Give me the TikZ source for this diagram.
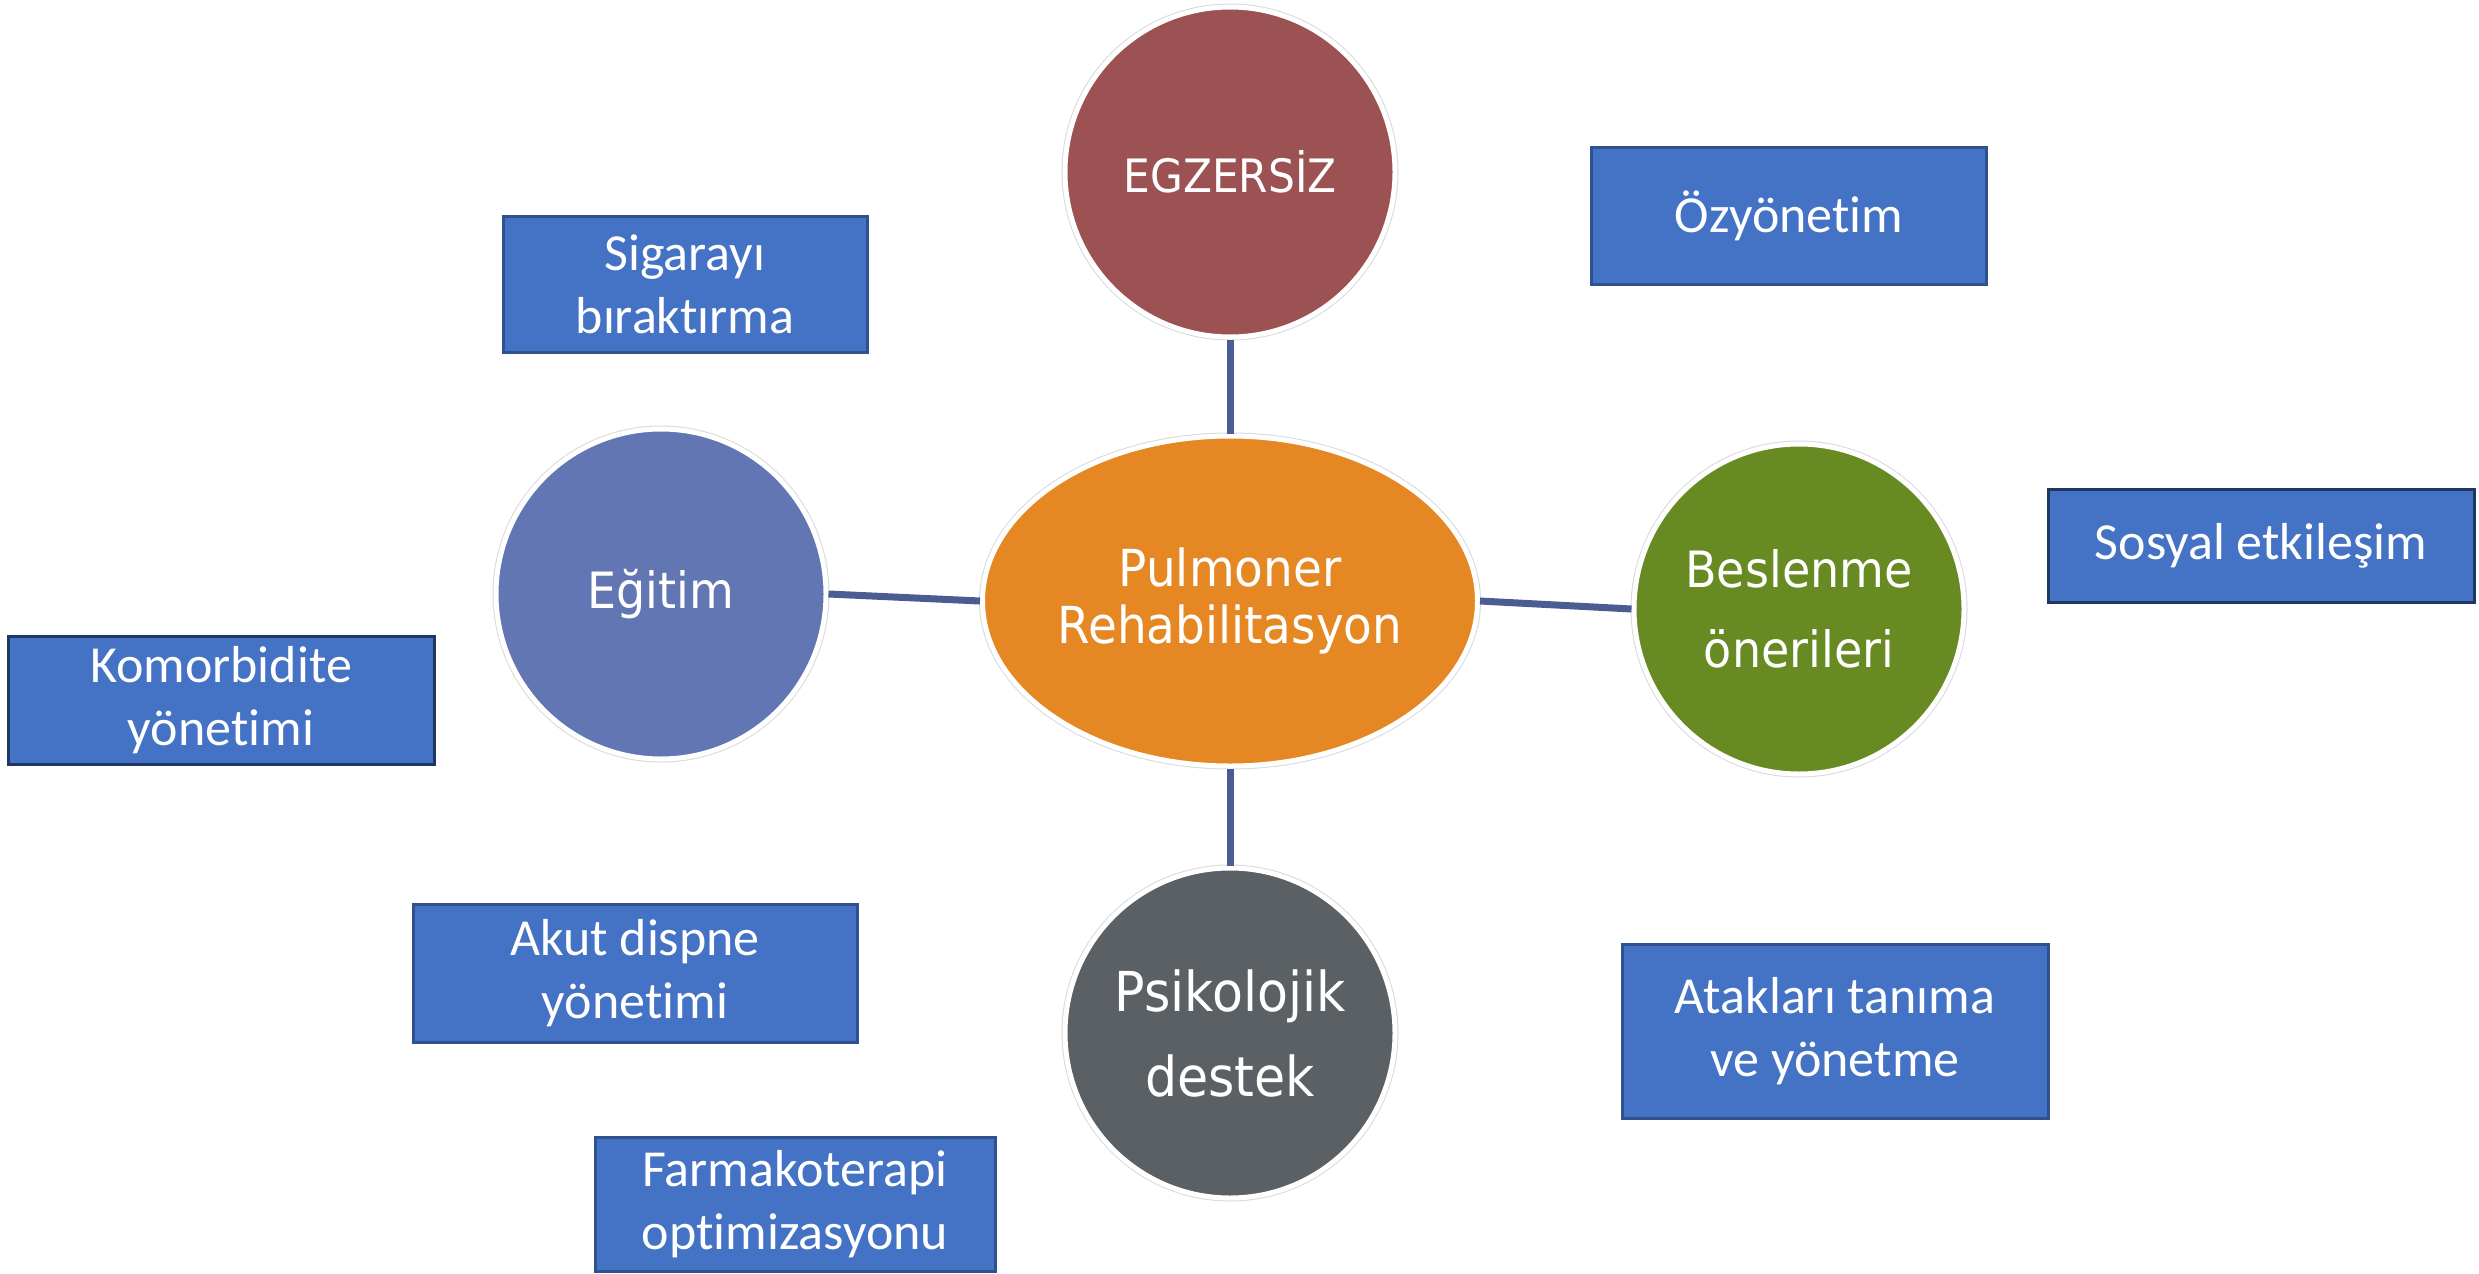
\documentclass[tikz,border=0pt]{standalone}
\usepackage{fontspec}
\setmainfont[RawFeature=-liga]{Carlito}
\newfontfamily\cf[FakeStretch=0.92]{DejaVu Sans}
\usetikzlibrary{shapes.geometric}
\definecolor{egzc}{HTML}{9C5252}
\definecolor{prc}{HTML}{E58722}
\definecolor{egic}{HTML}{6276B3}
\definecolor{besc}{HTML}{678A22}
\definecolor{psic}{HTML}{5A6064}
\definecolor{boxc}{HTML}{4472C4}
\definecolor{boxb}{HTML}{2F528F}
\definecolor{boxbd}{HTML}{1F3763}
\definecolor{linec}{HTML}{4A5C91}
\tikzset{
  ring/.style={draw=white, line width=5pt, text=white, align=center,
    preaction={draw=gray!30, line width=7pt}},
  bubble/.style={ring, circle, minimum size=330pt, inner sep=0pt},
  topic/.style={draw=boxb, fill=boxc, line width=3pt, text=white, align=center,
    inner sep=0pt, font=\fontsize{52}{63}\selectfont},
  link/.style={draw=linec, line width=7pt}
}
\begin{document}
\begin{tikzpicture}[x=1pt,y=-1pt]
\useasboundingbox (0,0) rectangle (2479,1274);
% central and satellite circles
\node[ring, ellipse, fill=prc, minimum width=495pt, minimum height=330pt, inner sep=0pt,
  font=\cf\fontsize{51}{57}\selectfont] (pr) at (1230,601) {Pulmoner\\Rehabilitasyon};
\node[bubble, fill=egzc, font=\cf\fontsize{46}{60}\selectfont] (egz) at (1230,172) {EGZERS\.{I}Z};
\node[bubble, fill=egic, font=\cf\fontsize{50}{80}\selectfont] (egi) at (661,594) {Eğitim};
\node[bubble, fill=besc, font=\cf\fontsize{50}{80}\selectfont] (bes) at (1799,609) {Beslenme\\önerileri};
\node[bubble, fill=psic, font=\cf\fontsize{55}{85}\selectfont] (psi) at (1230,1033) {Psikolojik\\destek};
% connectors
\draw[link] (egz.south) -- (pr.north);
\draw[link] (egi.east) -- (pr.west);
\draw[link] (pr.east) -- (bes.west);
\draw[link] (pr.south) -- (psi.north);
% boxes
\node[topic, minimum width=364pt, minimum height=136pt] (sig) at (685,284) {Sigarayı\\bıraktırma};
\node[topic, minimum width=395pt, minimum height=137pt] (ozy) at (1789,216) {Özyönetim};
\node[topic, draw=boxbd, minimum width=426pt, minimum height=113pt] (sos) at (2261,546) {Sosyal etkileşim};
\node[topic, draw=boxbd, minimum width=426pt, minimum height=128pt] (kom) at (221,700) {Komorbidite\\yönetimi};
\node[topic, minimum width=444pt, minimum height=138pt] (akut) at (635,973) {Akut dispne\\yönetimi};
\node[topic, minimum width=426pt, minimum height=174pt] (atak) at (1835,1031) {Atakları tanıma\\ve yönetme};
\node[topic, minimum width=400pt, minimum height=134pt] (farm) at (795,1204) {Farmakoterapi\\optimizasyonu};
\end{tikzpicture}
\end{document}
